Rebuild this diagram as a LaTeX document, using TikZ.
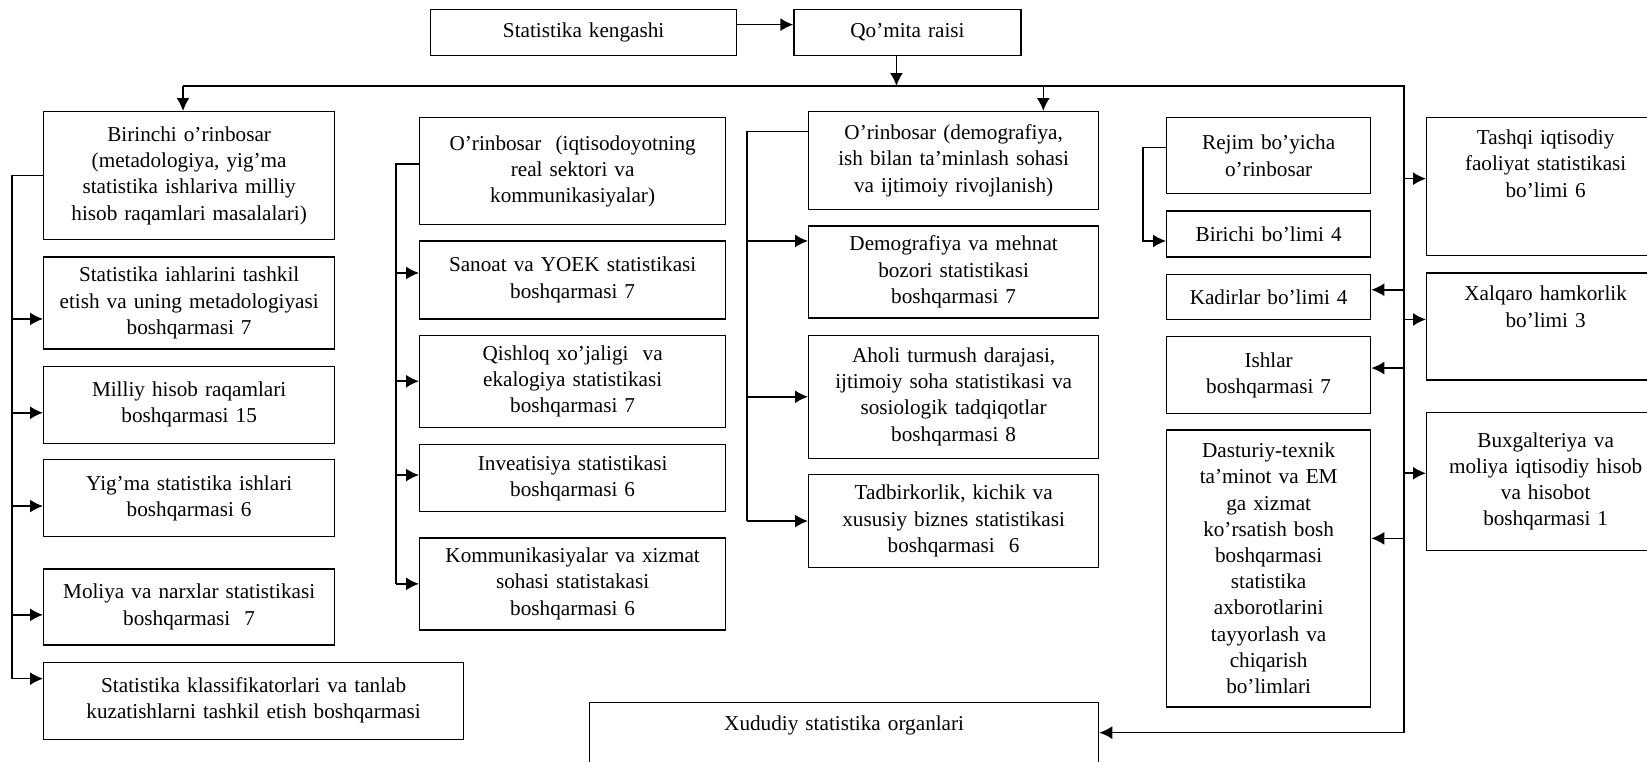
\documentclass[tikz,border=0pt]{standalone}
\usepackage{fontspec}
\setmainfont{Liberation Serif}
\usetikzlibrary{positioning,arrows.meta}

\begin{document}
\begin{tikzpicture}[x=1pt, y=-1pt, node distance=16pt, >={Latex[length=13pt,width=13pt]}, line width=1.6pt]
        \tikzstyle{block} = [draw, rectangle, line width=1.3pt, inner xsep=4pt, inner ysep=0pt, align=center,
          font=\fontsize{21.2}{26.2}\selectfont]
        \tikzstyle{colA} = [block, text width=283pt]
        \tikzstyle{colB} = [block, text width=298pt]
        \tikzstyle{colC} = [block, text width=282pt]
        \tikzstyle{colD} = [block, text width=196pt]
        \tikzstyle{colE} = [block, text width=230pt]

        \useasboundingbox (0,0) rectangle (1647,761);

        \node [block, text width=298pt, minimum height=46pt, anchor=north west] (kengash) at (430,9) {Statistika kengashi};
        \node [block, text width=219pt, minimum height=46pt, right=56pt of kengash] (raisi) {Qo’mita raisi};

        \node [colA, minimum height=128pt, anchor=north west] (bir) at (43,111) {Birinchi o’rinbosar\\ (metadologiya, yig’ma\\ statistika ishlariva milliy\\ hisob raqamlari masalalari)};
        \node [colA, minimum height=92pt, below=of bir] (iah) {Statistika iahlarini tashkil\\ etish va uning metadologiyasi\\ boshqarmasi 7};
        \node [colA, minimum height=77pt, below=of iah] (milliy) {Milliy hisob raqamlari\\ boshqarmasi 15};
        \node [colA, minimum height=77pt, below=15pt of milliy] (yigma) {Yig’ma statistika ishlari\\ boshqarmasi 6};
        \node [colA, minimum height=76pt, below=31pt of yigma] (moliya) {Moliya va narxlar statistikasi\\ boshqarmasi\ \ 7};
        \node [block, text width=412pt, minimum height=77pt, below=of moliya.south west, anchor=north west] (klass) {Statistika klassifikatorlari va tanlab\\ kuzatishlarni tashkil etish boshqarmasi};

        \node [colB, minimum height=107pt, anchor=north west] (iqt) at (419,117) {O’rinbosar\ \ (iqtisodoyotning\\ real sektori va\\ kommunikasiyalar)};
        \node [colB, minimum height=78pt, below=15pt of iqt] (sanoat) {Sanoat va YOEK statistikasi\\ boshqarmasi 7};
        \node [colB, minimum height=92pt, below=15pt of sanoat] (qishloq) {Qishloq xo’jaligi\ \ va\\ ekalogiya statistikasi\\ boshqarmasi 7};
        \node [colB, minimum height=67pt, below=of qishloq] (invest) {Inveatisiya statistikasi\\ boshqarmasi 6};
        \node [colB, minimum height=92pt, below=25pt of invest] (komm) {Kommunikasiyalar va xizmat\\ sohasi statistakasi\\ boshqarmasi 6};

        \node [colC, minimum height=98pt, anchor=north west] (demo) at (808,111) {O’rinbosar (demografiya,\\ ish bilan ta’minlash sohasi\\ va ijtimoiy rivojlanish)};
        \node [colC, minimum height=92pt, below=15pt of demo] (mehnat) {Demografiya va mehnat\\ bozori statistikasi\\ boshqarmasi 7};
        \node [colC, minimum height=123pt, below=of mehnat] (aholi) {Aholi turmush darajasi,\\ ijtimoiy soha statistikasi va\\ sosiologik tadqiqotlar\\ boshqarmasi 8};
        \node [colC, minimum height=93pt, below=15pt of aholi] (biznes) {Tadbirkorlik, kichik va\\ xususiy biznes statistikasi\\ boshqarmasi\ \ 6};

        \node [colD, minimum height=76pt, anchor=north west] (rejim) at (1166,117) {Rejim bo’yicha\\ o’rinbosar};
        \node [colD, minimum height=46pt, below=of rejim] (birichi) {Birichi bo’limi 4};
        \node [colD, minimum height=45pt, below=of birichi] (kadr) {Kadirlar bo’limi 4};
        \node [colD, minimum height=77pt, below=of kadr] (ishlar) {Ishlar\\ boshqarmasi 7};
        \node [colD, minimum height=277pt, below=15pt of ishlar] (dastur) {Dasturiy-texnik\\ ta’minot va EM\\ ga xizmat\\ ko’rsatish bosh\\ boshqarmasi\\ statistika\\ axborotlarini\\ tayyorlash va\\ chiqarish\\ bo’limlari};

        \node [colE, text height=27pt, text depth=111pt, anchor=north west] (tashqi) at (1426,117) {Tashqi iqtisodiy\\ faoliyat statistikasi\\ bo’limi 6};
        \node [colE, text height=28pt, text depth=79pt, below=of tashqi] (xalqaro) {Xalqaro hamkorlik\\ bo’limi 3};
        \node [colE, minimum height=138pt, below=31pt of xalqaro] (buxg) {Buxgalteriya va\\ moliya iqtisodiy hisob\\ va hisobot\\ boshqarmasi 1};

        \node [block, text width=501pt, text height=28pt, text depth=32pt, anchor=north west] (xudud) at (589,702) {Xududiy statistika organlari};

        \coordinate (bus) at (183,86);
        \coordinate (rbus) at (1404,86);
        \coordinate (rdown) at ([xshift=-11pt]raisi.south);
        \coordinate (dtop) at ([xshift=-56pt]demo.north east);

        \draw [->] ([yshift=8pt]kengash.east) -- ([yshift=8pt]raisi.west);
        \draw [->] (rdown) -- (rdown |- bus);
        \draw [->] (bus) -- (rbus) |- (xudud.east);
        \draw [->] (bus) -- (bus |- bir.north);
        \draw [->] (dtop |- bus) -- (dtop);

        \draw (bir.west) -| ([xshift=-31pt,yshift=22pt]klass.west);
        \foreach \nm/\dy in {iah/-16, milliy/-8, yigma/-8, moliya/-8, klass/22}
          \draw [<-] ([yshift=\dy pt]\nm.west) -- ++(-31,0);

        \draw ([yshift=7pt]iqt.west) -| ([xshift=-23pt]komm.west);
        \foreach \nm/\dy in {sanoat/7, qishloq/0, invest/3, komm/0}
          \draw [<-] ([yshift=\dy pt]\nm.west) -- ++(-23,0);

        \draw ([yshift=29pt]demo.west) -| ([xshift=-61pt]biznes.west);
        \foreach \nm/\dy in {mehnat/31, aholi/0, biznes/0}
          \draw [<-] ([yshift=\dy pt]\nm.west) -- ++(-61,0);

        \draw [->] ([yshift=8pt]rejim.west) -- ++(-23,0) |- ([yshift=-7pt]birichi.west);
        \foreach \nm/\dy in {kadr/7, ishlar/7, dastur/30}
          \draw [<-] ([yshift=\dy pt]\nm.east) -- ++(34,0);
        \foreach \nm/\dy in {tashqi/8, xalqaro/7, buxg/8}
          \draw [<-] ([yshift=\dy pt]\nm.west) -- ++(-22,0);
\end{tikzpicture}
\end{document}
